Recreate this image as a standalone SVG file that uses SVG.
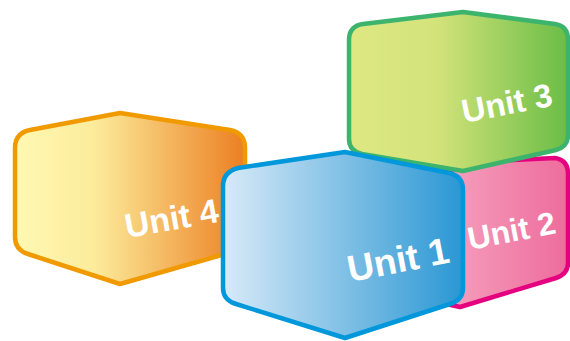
<svg xmlns="http://www.w3.org/2000/svg" width="570" height="341" viewBox="0 0 570 341">
<defs>
<linearGradient id="g4" x1="0" y1="0" x2="1" y2="0"><stop offset="0" stop-color="#FFF9B4"/><stop offset="0.35" stop-color="#FCEB9A"/><stop offset="1" stop-color="#EC7F22"/></linearGradient>
<linearGradient id="g1" x1="0" y1="0" x2="1" y2="0"><stop offset="0" stop-color="#D8EAF8"/><stop offset="1" stop-color="#2A97D3"/></linearGradient>
<linearGradient id="g3" x1="0" y1="0" x2="1" y2="0"><stop offset="0" stop-color="#DEE883"/><stop offset="0.4" stop-color="#D3E37A"/><stop offset="1" stop-color="#6ABD46"/></linearGradient>
<linearGradient id="g2" x1="0" y1="0" x2="1" y2="0"><stop offset="0" stop-color="#F9BCD0"/><stop offset="1" stop-color="#EE6C9C"/></linearGradient>
</defs>
<style>
.box{stroke-width:4.5;stroke-linejoin:round}
.lbl{font-family:"Liberation Sans",Arial,sans-serif;font-weight:bold;fill:#FFFFFF}
</style>
<g id="unit4">
<path class="box" fill="url(#g4)" stroke="#F09A00" d="M15,148 Q15,133 30,130 L120,113 L230,130 Q245,133 245,148 L245,235 Q245,248 232,252 L120,284 L28,254 Q15,250 15,237 Z"/>
<text class="lbl" font-size="34" transform="translate(127,238) rotate(-10)">Unit 4</text>
</g>
<g id="unit2">
<path class="box" fill="url(#g2)" stroke="#E4007F" d="M380,210 Q380,198 392,195 L470,162 L555,158 Q568,160 568,174 L568,263 Q568,274 556,278 L460,307 L392,292 Q380,289 380,277 Z"/>
<text class="lbl" font-size="32" transform="translate(470,250) rotate(-11)">Unit 2</text>
</g>
<g id="unit3">
<path class="box" fill="url(#g3)" stroke="#3DB46D" d="M349,40 Q349,26 363,24 L463,12 L555,24 Q568,26 568,40 L568,135 Q568,147 556,150 L463,171 L362,154 Q349,151 349,139 Z"/>
<text class="lbl" font-size="33" transform="translate(464,123) rotate(-11)">Unit 3</text>
</g>
<g id="unit1">
<path class="box" fill="url(#g1)" stroke="#0097DB" d="M223,186 Q223,172 238,168 L345,152 L449,173 Q463,176 463,190 L463,288 Q463,300 450,304 L345,338 L236,304 Q223,300 223,288 Z"/>
<text class="lbl" font-size="37" transform="translate(350,282) rotate(-11)">Unit 1</text>
</g>
<g id="connectors"/>
</svg>
